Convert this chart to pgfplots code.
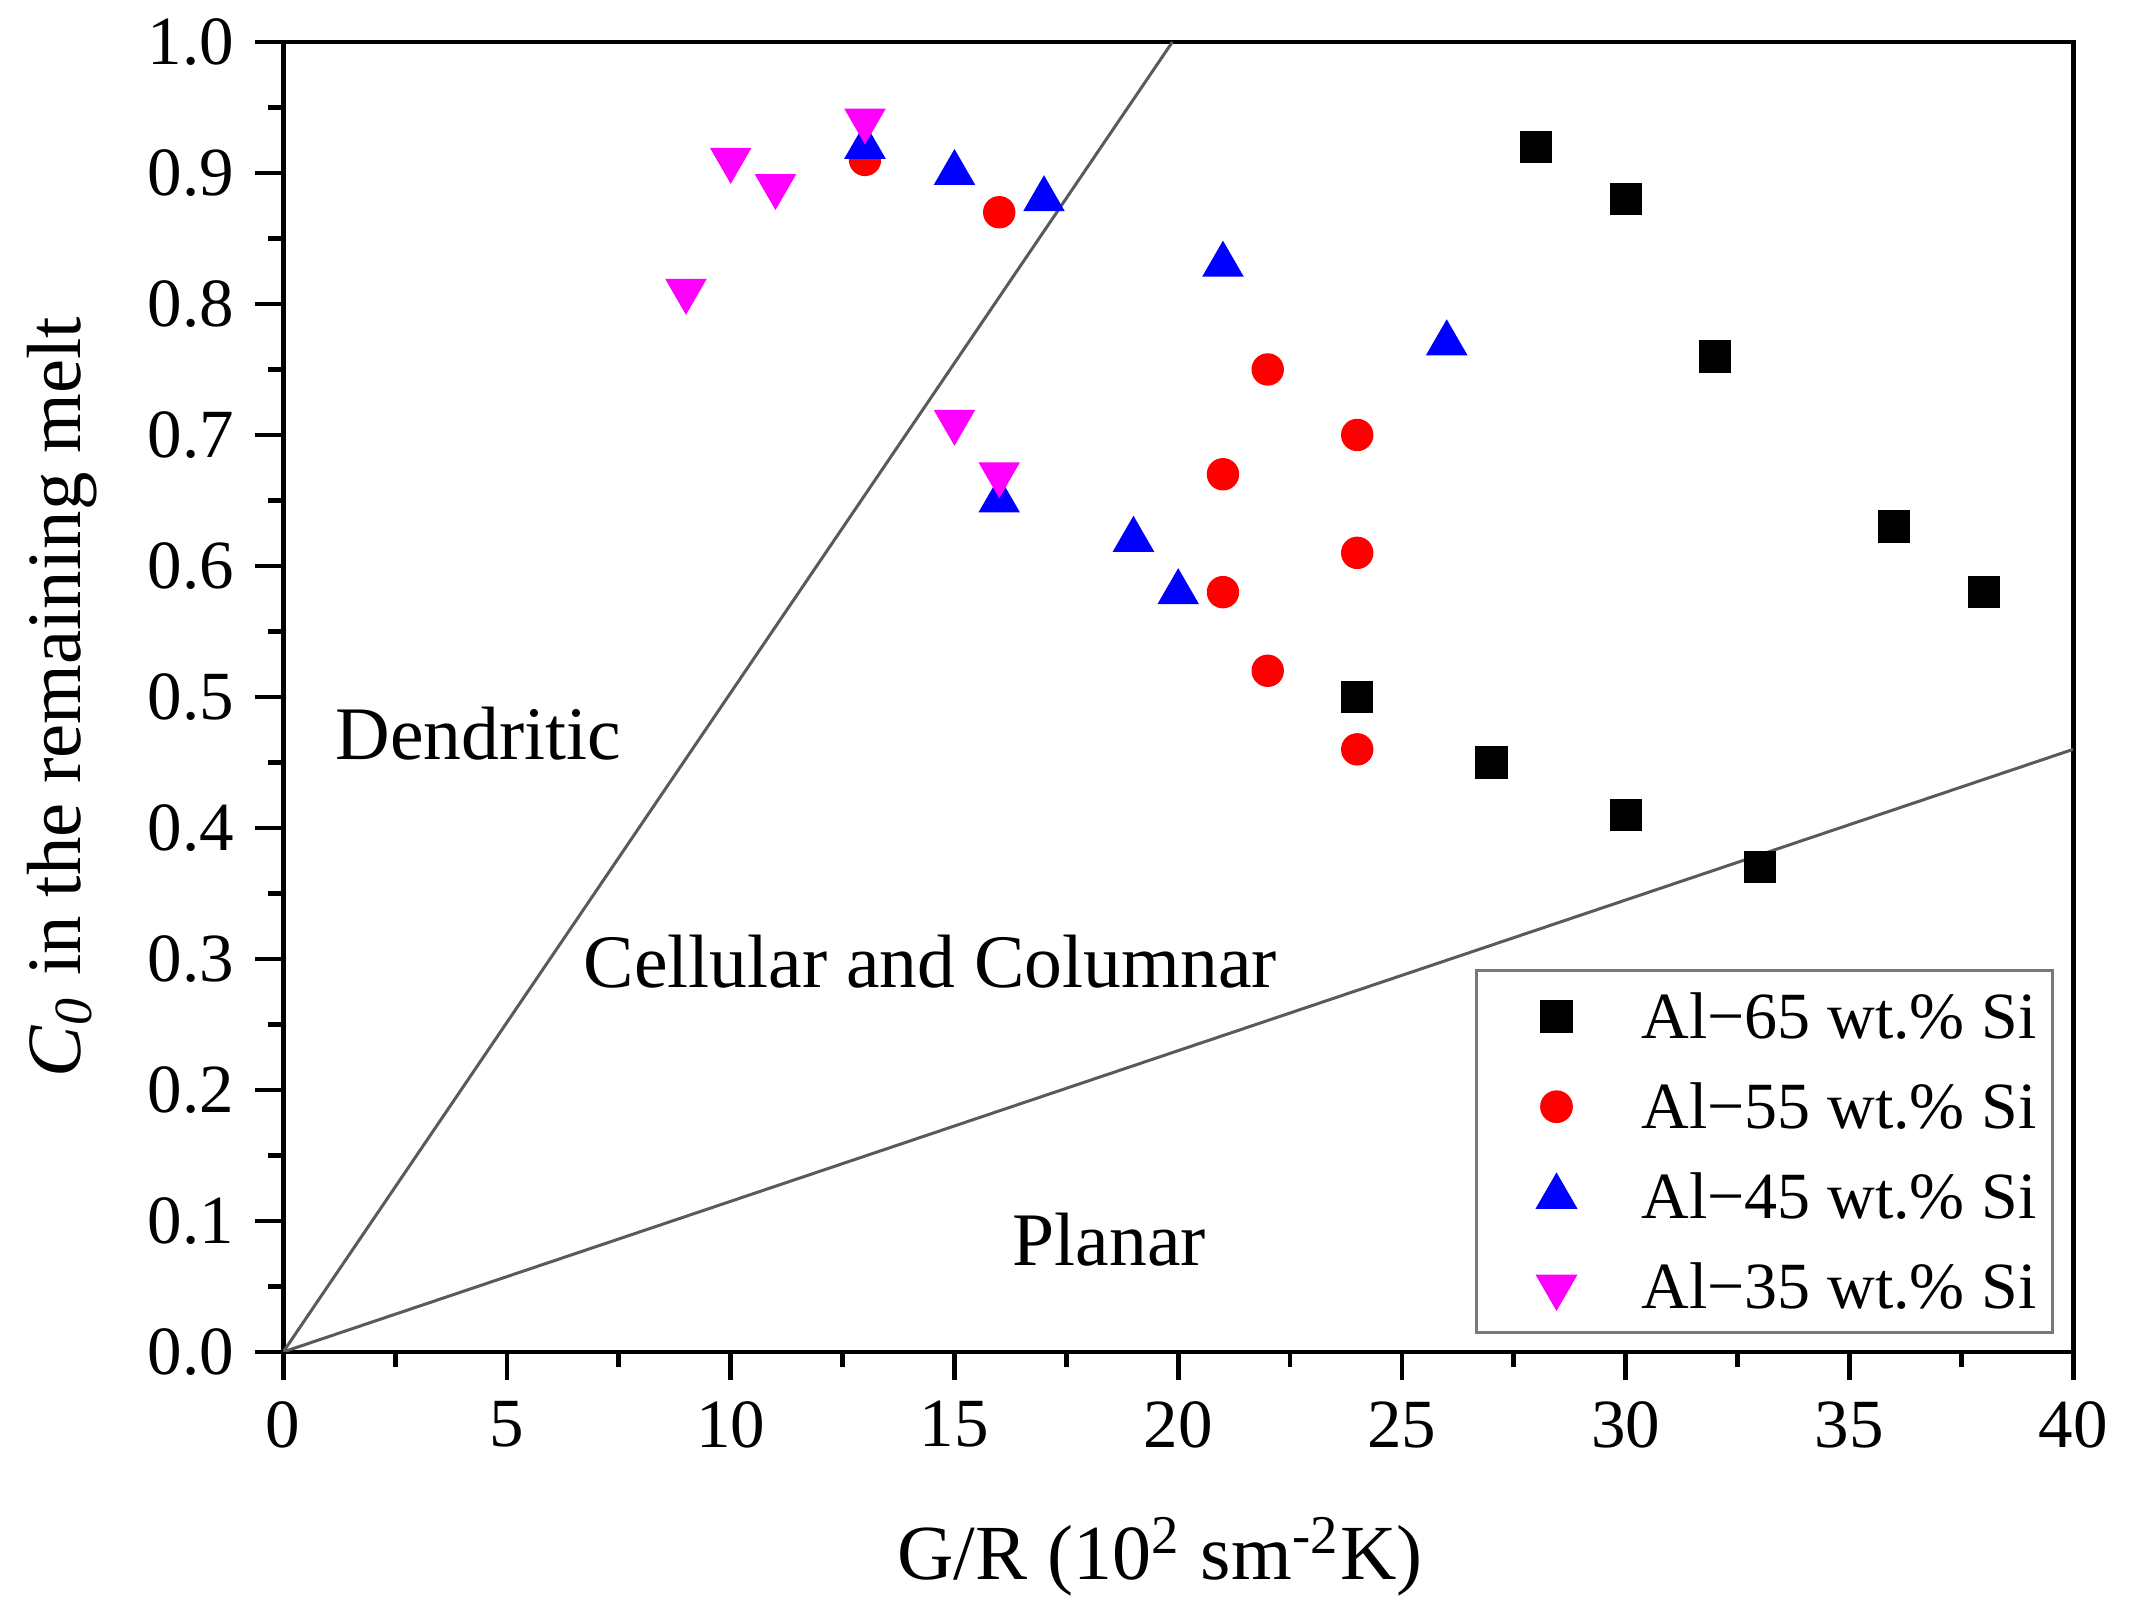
\documentclass[border=0pt]{standalone}
\usepackage{fontspec}
\setmainfont{Liberation Serif}
\usepackage{pgfplots}
\pgfplotsset{compat=1.18}
\definecolor{refline}{RGB}{90,90,90}
\definecolor{mred}{RGB}{255,0,0}
\definecolor{mblue}{RGB}{0,0,255}
\definecolor{mmag}{RGB}{255,0,255}
\definecolor{legframe}{RGB}{120,120,120}
\begin{document}
\begin{tikzpicture}
\begin{axis}[
  name=ax,
  scale only axis,
  width=298.3pt, height=218.3pt,
  xmin=0, xmax=40, ymin=0, ymax=1,
  xtick={0,5,10,15,20,25,30,35,40},
  ytick={0,0.1,0.2,0.3,0.4,0.5,0.6,0.7,0.8,0.9,1.0},
  minor x tick num=1, minor y tick num=1,
  tick align=outside,
  tick pos=left,
  major tick length=4.7pt, minor tick length=2.5pt,
  axis line style={line width=0.8pt},
  major tick style={line width=0.8pt, black},
  minor tick style={line width=0.8pt, black},
  /pgf/number format/assume math mode=true,
  yticklabel style={/pgf/number format/.cd, fixed, fixed zerofill, precision=1},
  xticklabel style={/pgf/number format/.cd, fixed},
  tick label style={font=\fontsize{11.5}{13}\selectfont},
  every axis y label/.style={at={([xshift=-33.8pt]rel axis cs:0,0.5)}, rotate=90, anchor=base, font=\fontsize{12.8}{15}\selectfont},
  every axis x label/.style={at={([xshift=-3pt,yshift=-38pt]rel axis cs:0.5,0)}, anchor=base, font=\fontsize{13}{15}\selectfont},
  xlabel={G/R (10\textsuperscript{2} sm\textsuperscript{-2}K)},
  ylabel={\textit{C}\textsubscript{\textit{0}} in the remaining melt},
  legend style={at={(0.9893,0.0137)}, anchor=south east, draw=legframe, line width=0.45pt,
    font=\fontsize{11}{13}\selectfont, row sep=7.7pt, inner xsep=2.7pt, inner ysep=4pt,
    nodes={inner sep=0pt, text height=7.3pt, text depth=0pt}},
  legend cell align=left,
  legend image code/.code={\path[draw=none,fill=none] (0pt,0pt) (24.8pt,0pt);
    \draw[mark repeat=2,mark phase=2,#1] plot coordinates {(0pt,0pt) (10.6pt,0pt) (21.2pt,0pt)};},
]
\addplot[forget plot, refline, line width=0.5pt] coordinates {(0,0) (19.87,1)};
\addplot[forget plot, refline, line width=0.5pt] coordinates {(0,0) (40,0.46)};

\addplot[only marks, mark=square*, mark size=2.5pt, black] coordinates {
(28,0.92) (30,0.88) (32,0.76) (36,0.63) (38,0.58) (24,0.50) (27,0.45) (30,0.41) (33,0.37)};
\addlegendentry{Al−65 wt.\% Si}
\addplot[only marks, mark=*, mark size=2.5pt, mred] coordinates {
(13,0.91) (16,0.87) (22,0.75) (24,0.70) (21,0.67) (24,0.61) (21,0.58) (22,0.52) (24,0.46)};
\addlegendentry{Al−55 wt.\% Si}
\addplot[only marks, mark=triangle*, mark size=3.6pt, mblue] coordinates {
(13,0.92) (15,0.90) (17,0.88) (21,0.83) (26,0.77) (16,0.65) (19,0.62) (20,0.58)};
\addlegendentry{Al−45 wt.\% Si}
\addplot[only marks, mark=triangle*, mark options={rotate=180}, mark size=3.6pt, mmag] coordinates {
(13,0.94) (10,0.91) (11,0.89) (9,0.81) (15,0.71) (16,0.67)};
\addlegendentry{Al−35 wt.\% Si}

\node[inner sep=0pt, font=\fontsize{12.6}{15}\selectfont] at (axis cs:4.36,0.472) {Dendritic};
\node[inner sep=0pt, font=\fontsize{12.6}{15}\selectfont] at (axis cs:14.46,0.298) {Cellular and Columnar};
\node[inner sep=0pt, font=\fontsize{12.6}{15}\selectfont] at (axis cs:18.46,0.086) {Planar};
\end{axis}
\pgfresetboundingbox
\path[use as bounding box] ([xshift=-47.2pt,yshift=-44.5pt]ax.south west) rectangle ([xshift=9.3pt,yshift=7pt]ax.north east);
\end{tikzpicture}
\end{document}
